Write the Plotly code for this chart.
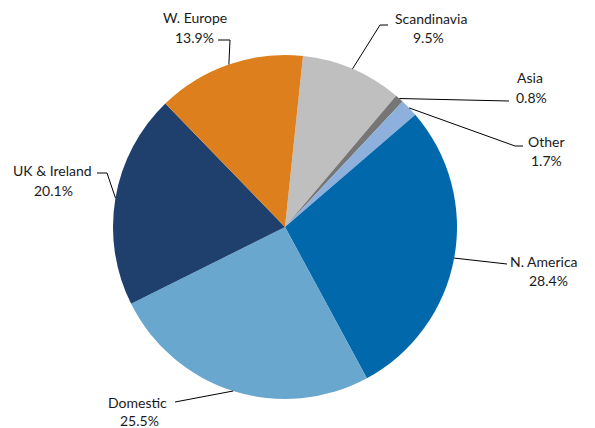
import math
import plotly.graph_objects as go

# Revenue share by region (%), clockwise from just right of 12 o'clock
regions = ["Scandinavia", "Asia", "Other", "N. America", "Domestic", "UK & Ireland", "W. Europe"]
shares = [9.5, 0.8, 1.7, 28.4, 25.5, 20.1, 13.9]
colors = ["#BFBFBF", "#767676", "#8DB0DC", "#0068AB", "#69A7CE", "#1F3F6D", "#DE7F1D"]

W, H = 595, 428
CX, CY, R = 285, 227, 172      # pie centre and radius in pixels
ROTATION = 6                   # degrees clockwise from 12 o'clock

# Label layout: name centre, percent centre, leader elbow and end (pixels)
label_layout = {
    "W. Europe":    dict(name=(195, 17),  pct=(194, 37),  elbow=(230, 40),  end=(218, 40)),
    "Scandinavia":  dict(name=(431, 19),  pct=(428, 38),  elbow=(380, 25),  end=(388, 25)),
    "Asia":         dict(name=(530, 78),  pct=(531, 98),  elbow=(509, 101), end=(509, 101)),
    "Other":        dict(name=(546, 141), pct=(546, 160), elbow=(515, 146), end=(523, 146)),
    "N. America":   dict(name=(544, 261), pct=(548, 280), elbow=(507, 264), end=(507, 264)),
    "Domestic":     dict(name=(137, 402), pct=(139, 420), elbow=(175, 402), end=(175, 402)),
    "UK & Ireland": dict(name=(52, 170),  pct=(53, 190),  elbow=(107, 173), end=(97, 173)),
}


def px(x, y):
    return x / W, 1 - y / H


fig = go.Figure(go.Pie(
    labels=regions,
    values=shares,
    sort=False,
    direction="clockwise",
    rotation=ROTATION,
    marker=dict(colors=colors, line=dict(width=0)),
    textinfo="none",
    hoverinfo="label+percent",
    showlegend=False,
    domain=dict(x=[(CX - R) / W, (CX + R) / W],
                y=[(H - CY - R) / H, (H - CY + R) / H]),
))

font = dict(family="Lato, Carlito, sans-serif", size=14, color="#1A1A1A")
total = sum(shares)
cum = 0.0
for name, val in zip(regions, shares):
    mid = math.radians(ROTATION + (cum + val / 2) / total * 360)
    cum += val
    sx, sy = CX + R * math.sin(mid), CY - R * math.cos(mid)
    lay = label_layout[name]
    pts = [(sx, sy), lay["elbow"], lay["end"]]
    path = "M " + " L ".join(f"{px(x, y)[0]},{px(x, y)[1]}" for x, y in pts)
    fig.add_shape(type="path", path=path, xref="paper", yref="paper",
                  line=dict(color="black", width=1))
    for key, txt in (("name", name), ("pct", f"{val:.1f}%")):
        ax, ay = px(*lay[key])
        fig.add_annotation(x=ax, y=ay, xref="paper", yref="paper", text=txt,
                           showarrow=False, xanchor="center", yanchor="middle",
                           font=font)

fig.update_layout(
    width=W, height=H,
    margin=dict(l=0, r=0, t=0, b=0),
    paper_bgcolor="white",
    plot_bgcolor="white",
)

fig.write_html("out.html")
